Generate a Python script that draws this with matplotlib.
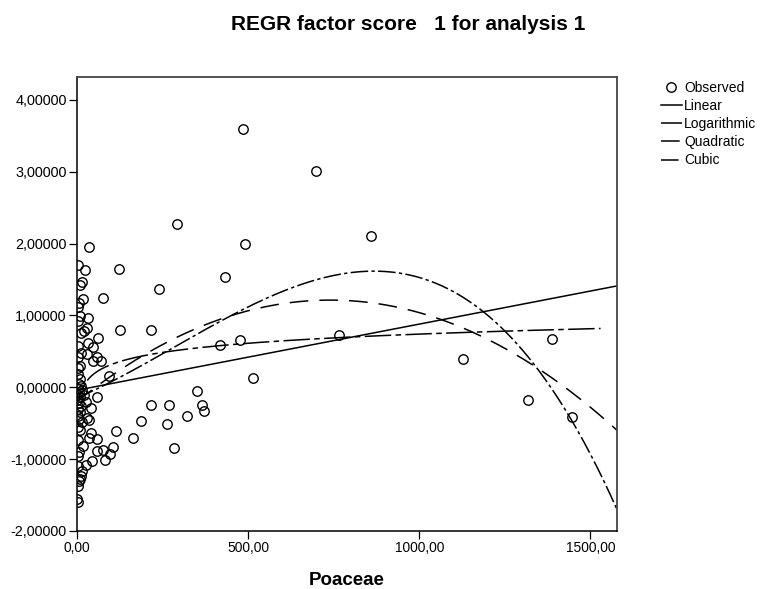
import matplotlib
matplotlib.use("Agg")
import matplotlib.pyplot as plt
import numpy as np
from matplotlib.ticker import FuncFormatter

plt.rcParams['font.family'] = ['Liberation Sans', 'DejaVu Sans']

# observed cases (Poaceae, REGR factor score 1)
poaceae = [3, 24, 14, 8, 17, 7, 4, 9, 32, 3, 28, 20, 12, 4, 33, 48, 12, 28, 3, 58,
           69, 46, 4, 10, 2, 8, 5, 12, 2, 6, 15, 3, 9, 1, 5, 12, 3, 8, 2, 6,
           14, 28, 36, 40, 58, 20, 25, 4, 10, 41, 59, 36, 17, 4, 7, 2, 58, 75, 82, 106,
           96, 45, 25, 4, 11, 14, 6, 4, 1, 2, 9,
           36, 124, 75, 126, 60, 94, 114, 164, 187,
           484, 698, 293, 490, 859, 432, 239, 217, 418, 475, 765, 515, 351, 217, 269, 365,
           372, 322, 263, 282, 1129, 1388, 1319, 1447]
score = [1.70, 1.63, 1.47, 1.42, 1.23, 1.18, 1.12, 0.99, 0.96, 0.92, 0.83, 0.78, 0.75, 0.57, 0.62,
         0.56, 0.48, 0.46, 0.42, 0.42, 0.36, 0.36, 0.27, 0.30, 0.18, 0.12, 0.05, 0.02, -0.02, -0.06,
         -0.04, -0.10, -0.14, -0.18, -0.22, -0.26, -0.30, -0.35, -0.40, -0.44, -0.48, -0.43, -0.46,
         -0.29, -0.13, -0.10, -0.20, -0.55, -0.60, -0.63, -0.72, -0.71, -0.81, -0.73, -0.90, -0.95,
         -0.88, -0.87, -1.01, -0.83, -0.93, -1.02, -1.08, -1.10, -1.23, -1.16, -1.30, -1.37, -1.56,
         -1.60, -1.28,
         1.96, 1.65, 1.25, 0.80, 0.68, 0.16, -0.61, -0.70, -0.47,
         3.59, 3.01, 2.28, 1.99, 2.10, 1.53, 1.37, 0.80, 0.59, 0.66, 0.725, 0.13, -0.05, -0.24,
         -0.25, -0.25, -0.33, -0.40, -0.51, -0.84, 0.39, 0.67, -0.18, -0.42]

# fitted model coefficients
linear_coef = [-0.04, 0.00092]
log_coef = [-0.53, 0.184]
quad_coef = [-0.198, 3.818e-3, -2.58e-6]
cubic_coef = [-0.148, 2.0508e-3, 2.3076e-6, -2.681e-9]

X_MAX = 1578
LOG_START = 30
px = 0.72  # points per pixel at 100 dpi

fig = plt.figure(figsize=(7.66, 5.89), dpi=100)
ax = fig.add_axes([77 / 766, 1 - 531 / 589, 540 / 766, 454 / 589])

xs = np.linspace(0, X_MAX, 500)
xl = np.linspace(LOG_START, X_MAX - 48, 500)

ax.plot(poaceae, score, 'o', ms=6.8, mfc='none', mec='black', mew=1.0,
        label='Observed', zorder=3)
ax.plot(xs, np.polyval(linear_coef[::-1], xs), color='black', lw=1.1, label='Linear')
ax.plot(xl, log_coef[0] + log_coef[1] * np.log(xl), color='black', lw=1.1,
        dashes=(24 * px, 4 * px, 5 * px, 4 * px), label='Logarithmic')
ax.plot(xs, np.polyval(quad_coef[::-1], xs), color='black', lw=1.1,
        dashes=(17 * px, 10 * px), label='Quadratic')
ax.plot(xs, np.polyval(cubic_coef[::-1], xs), color='black', lw=1.1,
        dashes=(16 * px, 3 * px, 3 * px, 3 * px), label='Cubic')

ax.set_xlim(0, X_MAX)
ax.set_ylim(-2.0, 4.32)
ax.set_xticks([0, 500, 1000, 1500])
ax.set_yticks([-2, -1, 0, 1, 2, 3, 4])
ax.xaxis.set_major_formatter(FuncFormatter(lambda v, p: f"{v:.2f}".replace('.', ',')))
ax.yaxis.set_major_formatter(FuncFormatter(lambda v, p: f"{v:.5f}".replace('.', ',')))
ax.tick_params(direction='out', length=6, width=0.9, pad=1.5)
ax.tick_params(axis='x', labelsize=9.9)
ax.tick_params(axis='y', labelsize=10.4)

for side in ['left', 'bottom']:
    ax.spines[side].set_color('black')
    ax.spines[side].set_linewidth(1.1)
for side in ['top', 'right']:
    ax.spines[side].set_color('#444444')
    ax.spines[side].set_linewidth(1.3)

ax.set_xlabel('Poaceae', fontsize=13.5, fontweight='bold', labelpad=12)
fig.text(408 / 766, 1 - 25 / 589, 'REGR factor score   1 for analysis 1',
         fontsize=15, fontweight='bold', ha='center', va='center')

fig.legend(loc='upper left', bbox_to_anchor=(651 / 766, 1 - 71 / 589), frameon=False,
           fontsize=10, handlelength=1.5, handletextpad=0.2, labelspacing=0.3,
           borderpad=0.2)

fig.savefig('out.png', dpi=100)
